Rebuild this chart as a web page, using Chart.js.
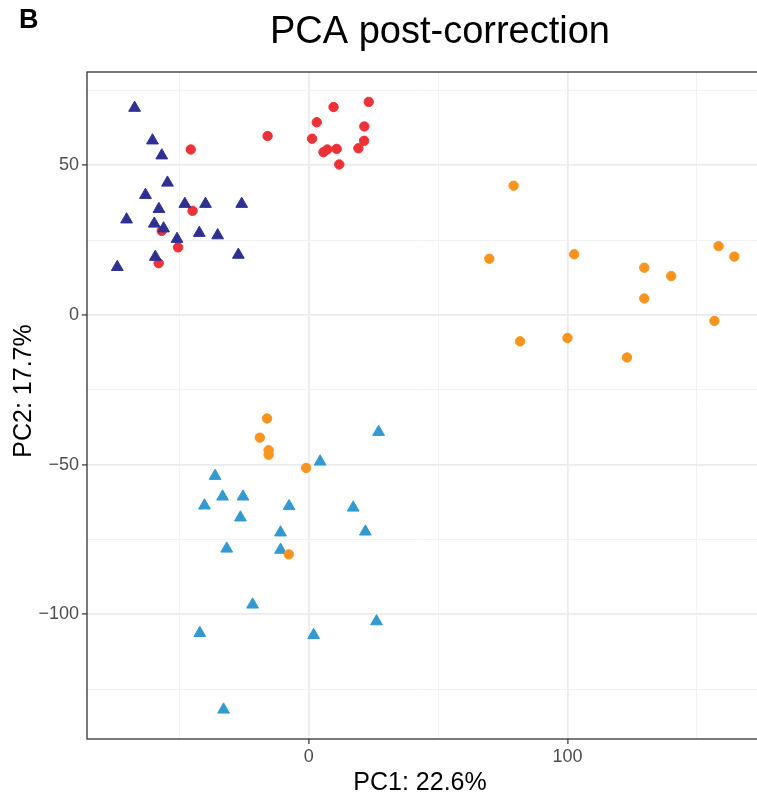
<!DOCTYPE html>
<html>
<head>
<meta charset="utf-8">
<title>PCA post-correction</title>
<script src="https://cdn.jsdelivr.net/npm/chart.js@4.4.1/dist/chart.umd.min.js"></script>
<style>
    html, body { margin: 0; padding: 0; background: #fff; overflow: hidden; }
    #pca { display: block; }
</style>
</head>
<body>
<canvas id="pca" width="768" height="793"></canvas>
<script>
// ---- Data: PC1 / PC2 scores per group ----
const navyPC1 = [-67.3, -60.4, -56.8, -54.6, -63.1, -57.9, -47.9, -39.9, -25.9, -70.4, -59.7, -56.1, -50.9, -42.3, -35.2, -59.3, -27.2, -74.0];
const navyPC2 = [69.2, 58.3, 53.3, 44.2, 40.1, 35.4, 37.1, 37.1, 37.1, 31.9, 30.5, 28.9, 25.4, 27.4, 26.6, 19.4, 20.1, 16.0];

const redPC1 = [-45.6, -15.9, 3.1, 9.6, 23.2, 21.5, 1.3, 21.4, 5.7, 7.2, 10.8, 19.2, 11.8, -44.9, -56.8, -50.5, -58.0];
const redPC2 = [55.3, 59.8, 64.4, 69.5, 71.2, 63.0, 58.9, 58.2, 54.4, 55.3, 55.5, 55.7, 50.3, 34.8, 28.1, 22.6, 17.3];

const orangePC1 = [79.2, 69.8, 102.6, 129.7, 140.1, 129.7, 158.4, 164.5, 156.8, 81.7, 100.0, 123.0, -16.1, -18.9, -15.5, -15.5, -1.0, -7.7];
const orangePC2 = [43.2, 18.8, 20.3, 15.8, 13.0, 5.5, 23.0, 19.5, -2.0, -8.8, -7.7, -14.2, -34.6, -41.0, -45.2, -46.7, -51.1, -80.0];

const bluePC1 = [27.0, 4.4, -36.2, -33.3, -25.4, -40.3, -7.6, 17.2, -26.4, -10.9, 21.9, -31.7, -10.9, -21.7, -42.1, 1.9, 26.2, -32.9];
const bluePC2 = [-39.1, -49.0, -53.8, -60.7, -60.7, -63.7, -63.9, -64.4, -67.7, -72.7, -72.4, -78.1, -78.5, -96.8, -106.3, -107.0, -102.4, -131.9];

// ---- Axis ticks ----
const xTicks = [-50, 0, 50, 100, 150];
const xLabelled = [0, 100];
const yTicks = [-125, -100, -75, -50, -25, 0, 25, 50, 75];
const yLabelled = [-100, -50, 0, 50];

const xRange = [-85.7, 174.5];
const yRange = [-141.7, 81.2];

function toPoints(xs, ys) {
    return xs.map((x, i) => ({ x: x, y: ys[i] }));
}

function fmt(v) {
    return v < 0 ? '\u2212' + Math.abs(v) : String(v);
}

// ---- Panel border, titles ----
const decorations = {
    id: 'decorations',
    afterDraw(chart) {
        const { ctx, chartArea: a } = chart;
        ctx.save();
        ctx.strokeStyle = '#333333';
        ctx.lineWidth = 1.3;
        ctx.strokeRect(a.left, a.top, a.right - a.left, a.bottom - a.top);

        ctx.fillStyle = '#000';
        ctx.textBaseline = 'alphabetic';

        ctx.font = "bold 27px 'Liberation Sans', Arial, sans-serif";
        ctx.textAlign = 'left';
        ctx.fillText('B', 19, 28);

        ctx.font = "38px 'Liberation Sans', Arial, sans-serif";
        ctx.textAlign = 'center';
        ctx.fillText('PCA post-correction', 440, 43);

        ctx.font = "25px 'Liberation Sans', Arial, sans-serif";
        ctx.fillText('PC1: 22.6%', 420, 790);

        ctx.translate(31, 391);
        ctx.rotate(-Math.PI / 2);
        ctx.fillText('PC2: 17.7%', 0, 0);
        ctx.restore();
    }
};

function scatterSet(label, xs, ys, color, style, radius) {
    return {
        label: label,
        data: toPoints(xs, ys),
        pointStyle: style,
        pointRadius: radius,
        pointHoverRadius: radius,
        pointBackgroundColor: color,
        pointBorderColor: color,
        pointBorderWidth: 1
    };
}

Chart.defaults.font.family = "'Liberation Sans', Arial, sans-serif";

new Chart(document.getElementById('pca'), {
    type: 'scatter',
    data: {
        datasets: [
            scatterSet('Batch 1 / A', navyPC1, navyPC2, '#2E3192', 'triangle', 6.8),
            scatterSet('Batch 1 / B', redPC1, redPC2, '#EC3237', 'circle', 4.7),
            scatterSet('Batch 2 / B', orangePC1, orangePC2, '#F7941E', 'circle', 4.7),
            scatterSet('Batch 2 / A', bluePC1, bluePC2, '#3399D1', 'triangle', 6.8)
        ]
    },
    options: {
        responsive: false,
        animation: false,
        layout: { padding: { top: 72, left: 0, right: 0, bottom: 0 } },
        plugins: {
            legend: { display: false },
            tooltip: { enabled: false },
            title: { display: false }
        },
        scales: {
            x: {
                type: 'linear',
                min: xRange[0],
                max: xRange[1],
                afterBuildTicks: s => { s.ticks = xTicks.map(v => ({ value: v })); },
                afterFit: s => { s.height = 54; },
                border: { display: false },
                grid: {
                    color: c => xLabelled.includes(c.tick.value) ? '#EBEBEB' : '#F2F2F2',
                    lineWidth: c => xLabelled.includes(c.tick.value) ? 1.8 : 1,
                    tickColor: c => xLabelled.includes(c.tick.value) ? '#333333' : 'rgba(0,0,0,0)',
                    tickLength: 5,
                    tickWidth: 1.2
                },
                ticks: {
                    color: '#4D4D4D',
                    font: { size: 18 },
                    padding: 2,
                    maxRotation: 0,
                    callback: v => xLabelled.includes(v) ? fmt(v) : ''
                }
            },
            y: {
                type: 'linear',
                min: yRange[0],
                max: yRange[1],
                afterBuildTicks: s => { s.ticks = yTicks.map(v => ({ value: v })); },
                afterFit: s => { s.width = 87; },
                border: { display: false },
                grid: {
                    color: c => yLabelled.includes(c.tick.value) ? '#EBEBEB' : '#F2F2F2',
                    lineWidth: c => yLabelled.includes(c.tick.value) ? 1.8 : 1,
                    tickColor: c => yLabelled.includes(c.tick.value) ? '#333333' : 'rgba(0,0,0,0)',
                    tickLength: 5,
                    tickWidth: 1.2
                },
                ticks: {
                    color: '#4D4D4D',
                    font: { size: 18 },
                    padding: 3,
                    callback: v => yLabelled.includes(v) ? fmt(v) : ''
                }
            }
        }
    },
    plugins: [decorations]
});
</script>
</body>
</html>
